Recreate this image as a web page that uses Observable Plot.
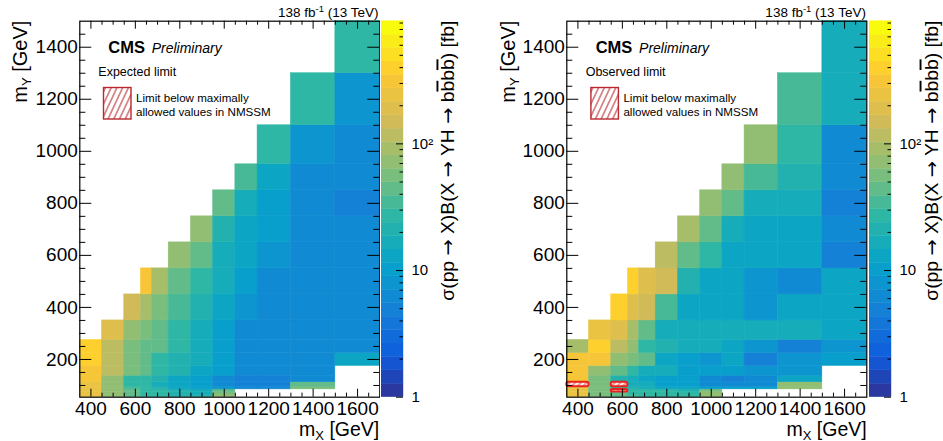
<!DOCTYPE html>
<html>
<head>
<meta charset="utf-8">
<title>X → YH → bbbb cross-section limits</title>
<script src="https://cdn.jsdelivr.net/npm/d3@7"></script>
<script src="https://cdn.jsdelivr.net/npm/@observablehq/plot@0.6"></script>
<style>
  html, body { margin: 0; background: #fff; }
  #fig { position: relative; width: 943px; height: 441px; overflow: hidden; background: #fff; }
  #fig > svg { position: absolute; top: 0; }
</style>
</head>
<body>
<div id="fig"></div>
<script>
// Signal mass grid (GeV)
const mX = [400, 500, 600, 650, 700, 800, 900, 1000, 1100, 1200, 1400, 1600];
const mY = [60, 70, 80, 90, 100, 125, 150, 200, 250, 300, 400, 500, 600, 700, 800, 900, 1000, 1200, 1400];

const _ = null; // mass point not probed

// Upper limits on sigma*B in fb; one row per mX, entries ordered as mY
const expected = [
  [230, 230, 240, 250, 260, 300, 330, 380, 420, _, _, _, _, _, _, _, _, _, _],
  [75, 75, 75, 80, 80, 80, 110, 120, 120, 170, _, _, _, _, _, _, _, _, _],
  [40, 40, 40, 38, 30, 30, 60, 50, 60, 65, 140, _, _, _, _, _, _, _, _],
  [30, 30, 30, 25, 25, 28, 45, 45, 48, 60, 100, 330, _, _, _, _, _, _, _],
  [25, 25, 25, 20, 18, 20, 28, 30, 40, 45, 60, 100, _, _, _, _, _, _, _],
  [22, 22, 20, 14, 12, 14, 22, 22, 25, 25, 35, 45, 75, _, _, _, _, _, _],
  [20, 18, 16, 10, 9, 10, 14, 15, 16, 18, 22, 27, 40, 75, _, _, _, _, _],
  [80, 60, 40, 8, 6, 7, 9, 9, 10, 10, 12, 15, 17, 22, 42, _, _, _, _],
  [_, _, _, 6, 5, 5, 7, 7, 7, 7, 8, 10, 12, 14, 18, 38, _, _, _],
  [_, _, _, 6, 5, 4.5, 6.5, 6.5, 6.5, 6.5, 6.5, 7, 8, 9, 10, 13, 26, _, _],
  [_, _, _, 55, 40, 6, 6, 6, 6, 6, 6, 6.5, 6.5, 6.5, 7, 7, 8, 27, _],
  [_, _, _, _, _, _, _, 14, 7, 7, 7, 7, 7, 7, 5, 7, 7, 7.5, 24]
];

const observed = [
  [250, 250, 250, 260, 250, 280, 290, 300, 100, _, _, _, _, _, _, _, _, _, _],
  [60, 60, 60, 55, 50, 60, 65, 280, 380, 250, _, _, _, _, _, _, _, _, _],
  [40, 40, 30, 25, 20, 22, 40, 70, 130, 200, 380, _, _, _, _, _, _, _, _],
  [35, 30, 25, 20, 18, 18, 28, 60, 65, 85, 200, 380, _, _, _, _, _, _, _],
  [30, 30, 30, 18, 15, 13, 15, 48, 30, 45, 140, 180, _, _, _, _, _, _, _],
  [30, 30, 25, 14, 10, 10, 15, 14, 19, 17, 33, 140, 130, _, _, _, _, _, _],
  [25, 25, 22, 12, 10, 9, 9, 11, 15, 15, 13, 20, 45, 90, _, _, _, _, _],
  [70, 70, 60, 10, 6, 7, 9, 8, 15, 15, 12, 14, 30, 45, 80, _, _, _, _],
  [_, _, _, 10, 7, 5, 10, 12, 14, 16, 12, 12, 14, 15, 40, 70, _, _, _],
  [_, _, _, 10, 7, 7, 8, 5.5, 8, 15, 8, 8, 13, 14, 15, 38, 78, _, _],
  [_, _, _, 80, 70, 12, 8, 8, 4.5, 15, 12, 7, 13, 13, 15, 22, 24, 37, _],
  [_, _, _, _, _, _, _, 10, 8, 14, 13, 13, 5, 6, 5.5, 6, 6.5, 16, 15]
];

// Points where the observed limit lies below the maximally allowed NMSSM value
const nmssmX = [400, 600, 600];
const nmssmY = [100, 100, 80];

// Axis ticks
const xTicks = [400, 600, 800, 1000, 1200, 1400, 1600];
const yTicks = [200, 400, 600, 800, 1000, 1200, 1400];
const zTicks = [1, 10, 100];
const zTickLabels = ["1", "10", "10²"];
const zMax = 930;
const nContours = 28;

// ROOT "bird" palette stops (equally spaced)
const birdR = [0.2082, 0.0592, 0.0780, 0.0232, 0.1802, 0.5301, 0.8186, 0.9956, 0.9764];
const birdG = [0.1664, 0.3599, 0.5041, 0.6419, 0.7178, 0.7492, 0.7328, 0.7862, 0.9832];
const birdB = [0.5293, 0.8684, 0.8385, 0.7914, 0.6425, 0.4662, 0.3499, 0.1968, 0.0539];

const FONT = '"Liberation Sans", Arial, Helvetica, sans-serif';
const figW = 943, figH = 441;
const frameL = 79.3, frameT = 20.7, frameW = 300, frameH = 376;
const frameB = figH - frameT - frameH;
const barL = 381.2, barW = 22;
const panelDX = 487.4;

function bird(t) {
  const n = birdR.length - 1;
  const s = Math.max(0, Math.min(1, t)) * n;
  const i = Math.min(n - 1, Math.floor(s)), f = s - i;
  const c = ch => Math.round(255 * (ch[i] + (ch[i + 1] - ch[i]) * f));
  return `rgb(${c(birdR)},${c(birdG)},${c(birdB)})`;
}

// Contour bands, equally spaced in log10 between 1 and zMax
const L = Math.log10(zMax);
const bandEdges = d3.range(nContours + 1).map(k => 10 ** (k * L / nContours));
const colorScale = {
  type: "threshold",
  domain: bandEdges.slice(1, -1),
  range: d3.range(nContours).map(k => bird((k + 0.99) / nContours))
};

// Bin edges halfway between neighbouring mass points
function binEdges(c) {
  const e = [c[0] - (c[1] - c[0]) / 2];
  for (let i = 1; i < c.length; i++) e.push((c[i - 1] + c[i]) / 2);
  e.push(c[c.length - 1] + (c[c.length - 1] - c[c.length - 2]) / 2);
  return e;
}
const xEdges = binEdges(mX), yEdges = binEdges(mY);

function gridCells(grid) {
  const out = [];
  grid.forEach((row, i) => row.forEach((v, j) => {
    if (v != null) out.push({x1: xEdges[i], x2: xEdges[i + 1], y1: yEdges[j], y2: yEdges[j + 1], v});
  }));
  return out;
}

function pointCells(xs, ys) {
  return xs.map((x, k) => {
    const i = mX.indexOf(x), j = mY.indexOf(ys[k]);
    return {x1: xEdges[i], x2: xEdges[i + 1], y1: yEdges[j], y2: yEdges[j + 1]};
  });
}

const xMinor = d3.range(400, 1700, 50).filter(v => v % 200 !== 0);
const yMinor = d3.range(100, 1500, 50).filter(v => v % 200 !== 0);
const zMinor = [2, 3, 4, 5, 6, 7, 8, 9, 20, 30, 40, 50, 60, 70, 80, 90, 200, 300, 400, 500, 600, 700, 800, 900];

function heatmap(grid, extra) {
  return Plot.plot({
    width: frameL + frameW + 1,
    height: figH,
    marginLeft: frameL, marginRight: 1, marginTop: frameT, marginBottom: frameB,
    x: {domain: [350, 1700]},
    y: {domain: [55, 1500]},
    color: colorScale,
    style: {fontFamily: FONT, fontSize: "19px", background: "transparent", color: "#000"},
    marks: [
      Plot.rect(gridCells(grid), {x1: "x1", x2: "x2", y1: "y1", y2: "y2", fill: "v", stroke: "v", strokeWidth: 0.5}),
      ...extra,
      // inward ROOT-style ticks on all four sides
      Plot.tickX(xMinor, {x: d => d, insetTop: frameH - 4, stroke: "#000"}),
      Plot.tickX(xTicks, {x: d => d, insetTop: frameH - 8, stroke: "#000"}),
      Plot.tickX(xMinor, {x: d => d, insetBottom: frameH - 4, stroke: "#000"}),
      Plot.tickX(xTicks, {x: d => d, insetBottom: frameH - 8, stroke: "#000"}),
      Plot.tickY(yMinor, {y: d => d, insetRight: frameW - 6, stroke: "#000"}),
      Plot.tickY(yTicks, {y: d => d, insetRight: frameW - 12, stroke: "#000"}),
      Plot.tickY(yMinor, {y: d => d, insetLeft: frameW - 6, stroke: "#000"}),
      Plot.tickY(yTicks, {y: d => d, insetLeft: frameW - 12, stroke: "#000"}),
      Plot.axisX(xTicks, {anchor: "bottom", tickSize: 0, tickPadding: 4, tickFormat: "d", fontSize: 19, label: null}),
      Plot.axisY(yTicks, {anchor: "left", tickSize: 0, tickPadding: 2, tickFormat: "d", fontSize: 19, label: null}),
      Plot.frame({stroke: "#000", strokeWidth: 1.2})
    ]
  });
}

function colorbar() {
  const bands = d3.range(nContours).map(k => ({lo: bandEdges[k], hi: bandEdges[k + 1]}));
  const labelOf = new Map(zTicks.map((t, i) => [t, zTickLabels[i]]));
  return Plot.plot({
    width: barW + 40,
    height: figH,
    marginLeft: 0, marginRight: 40, marginTop: frameT, marginBottom: frameB,
    x: {domain: [0, 1], axis: null},
    y: {type: "log", domain: [1, zMax]},
    color: colorScale,
    style: {fontFamily: FONT, fontSize: "15px", background: "transparent", color: "#000"},
    marks: [
      Plot.rect(bands, {x1: 0, x2: 1, y1: "lo", y2: "hi", fill: d => Math.sqrt(d.lo * d.hi), stroke: d => Math.sqrt(d.lo * d.hi), strokeWidth: 0.4}),
      Plot.tickY(zMinor, {y: d => d, insetLeft: barW - 3.5, stroke: "#000"}),
      Plot.tickY(zTicks, {y: d => d, insetLeft: barW - 7, stroke: "#000"}),
      Plot.axisY(zTicks, {anchor: "right", tickSize: 0, tickPadding: 8, tickFormat: d => labelOf.get(d), fontSize: 15, label: null})
    ]
  });
}

const fig = document.getElementById("fig");
function place(svg, left) {
  svg.style.left = left + "px";
  fig.appendChild(svg);
}

const nmssmMark = Plot.rect(pointCells(nmssmX, nmssmY), {
  x1: "x1", x2: "x2", y1: "y1", y2: "y2",
  fill: "url(#nmssm-hatch)", stroke: "#e8221e", strokeWidth: 2, rx: 2
});

place(heatmap(expected, []), 0);
place(colorbar(), barL);
place(heatmap(observed, [nmssmMark]), panelDX);
place(colorbar(), barL + panelDX);

// Text, legend and hatch patterns drawn on top
const ov = d3.select(fig).append("svg")
  .attr("width", figW).attr("height", figH)
  .style("left", "0px")
  .style("pointer-events", "none")
  .attr("font-family", FONT);

const defs = ov.append("defs");
const hp = defs.append("pattern").attr("id", "nmssm-hatch")
  .attr("patternUnits", "userSpaceOnUse").attr("width", 4).attr("height", 4)
  .attr("patternTransform", "rotate(45)");
hp.append("rect").attr("width", 4).attr("height", 4).attr("fill", "#fdf0f0");
hp.append("line").attr("x1", 1).attr("y1", 0).attr("x2", 1).attr("y2", 4)
  .attr("stroke", "#e8221e").attr("stroke-width", 0.9);

const lp = defs.append("pattern").attr("id", "legend-hatch")
  .attr("patternUnits", "userSpaceOnUse").attr("width", 5.2).attr("height", 10)
  .attr("patternTransform", "rotate(25)");
lp.append("rect").attr("width", 5.2).attr("height", 10).attr("fill", "#fff");
lp.append("line").attr("x1", 2.6).attr("y1", 0).attr("x2", 2.6).attr("y2", 10)
  .attr("stroke", "#b8282e").attr("stroke-width", 1);

const ARROW_FONT = '"DejaVu Sans", "Liberation Sans", sans-serif';

function annotate(dx, limitLabel, titleX) {
  const g = ov.append("g").attr("transform", `translate(${dx},0)`);

  const lumi = g.append("text").attr("x", 378.5).attr("y", 17)
    .attr("text-anchor", "end").attr("font-size", 13.5);
  lumi.append("tspan").text("138 fb");
  lumi.append("tspan").attr("font-size", 9.5).attr("dy", -5).text("-1");
  lumi.append("tspan").attr("dy", 5).text(" (13 TeV)");

  g.append("text").attr("x", 108.3).attr("y", 53.3)
    .attr("font-size", 16.5).attr("font-weight", "bold").text("CMS");
  g.append("text").attr("x", 151.7).attr("y", 53.3)
    .attr("font-size", 14).attr("font-style", "italic").text("Preliminary");

  g.append("text").attr("x", 98.3).attr("y", 75.7)
    .attr("font-size", 12.5).text(limitLabel);

  g.append("rect").attr("x", 103.5).attr("y", 87.5).attr("width", 27.5).attr("height", 31.5)
    .attr("fill", "url(#legend-hatch)").attr("stroke", "#b8282e").attr("stroke-width", 1.4);
  g.append("text").attr("x", 136).attr("y", 101.5).attr("font-size", 11.6).text("Limit below maximally");
  g.append("text").attr("x", 136).attr("y", 116).attr("font-size", 11.6).text("allowed values in NMSSM");

  const xl = g.append("text").attr("x", frameL + frameW).attr("y", 435.5)
    .attr("text-anchor", "end").attr("font-size", 19.5);
  xl.append("tspan").text("m");
  xl.append("tspan").attr("font-size", 13).attr("dy", 4).text("X");
  xl.append("tspan").attr("dy", -4).text(" [GeV]");

  const yl = g.append("text").attr("x", 27.5).attr("y", frameT)
    .attr("transform", `rotate(-90, 27.5, ${frameT})`)
    .attr("text-anchor", "end").attr("font-size", 20);
  yl.append("tspan").text("m");
  yl.append("tspan").attr("font-size", 13).attr("dy", 4).text("Y");
  yl.append("tspan").attr("dy", -4).text(" [GeV]");

  // sigma(pp -> X) B(X -> YH -> b bbar b bbar) [fb]
  const zl = g.append("text").attr("x", titleX).attr("y", frameT)
    .attr("transform", `rotate(-90, ${titleX}, ${frameT})`)
    .attr("text-anchor", "end").attr("font-size", 19)
    .attr("textLength", 280).attr("lengthAdjust", "spacingAndGlyphs");
  const parts = [
    ["σ(pp "], ["→", "arrow"], [" X)B(X "], ["→", "arrow"], [" YH "], ["→", "arrow"],
    [" b"], ["b", "bar"], ["b"], ["b", "bar"], [") [fb]"]
  ];
  for (const [s, kind] of parts) {
    const t = zl.append("tspan").text(s);
    if (kind === "arrow") t.attr("font-family", ARROW_FONT);
    if (kind === "bar") t.style("text-decoration", "overline");
  }
}

annotate(0, "Expected limit", 454.5);
annotate(panelDX, "Observed limit", 450.2);
</script>
</body>
</html>
